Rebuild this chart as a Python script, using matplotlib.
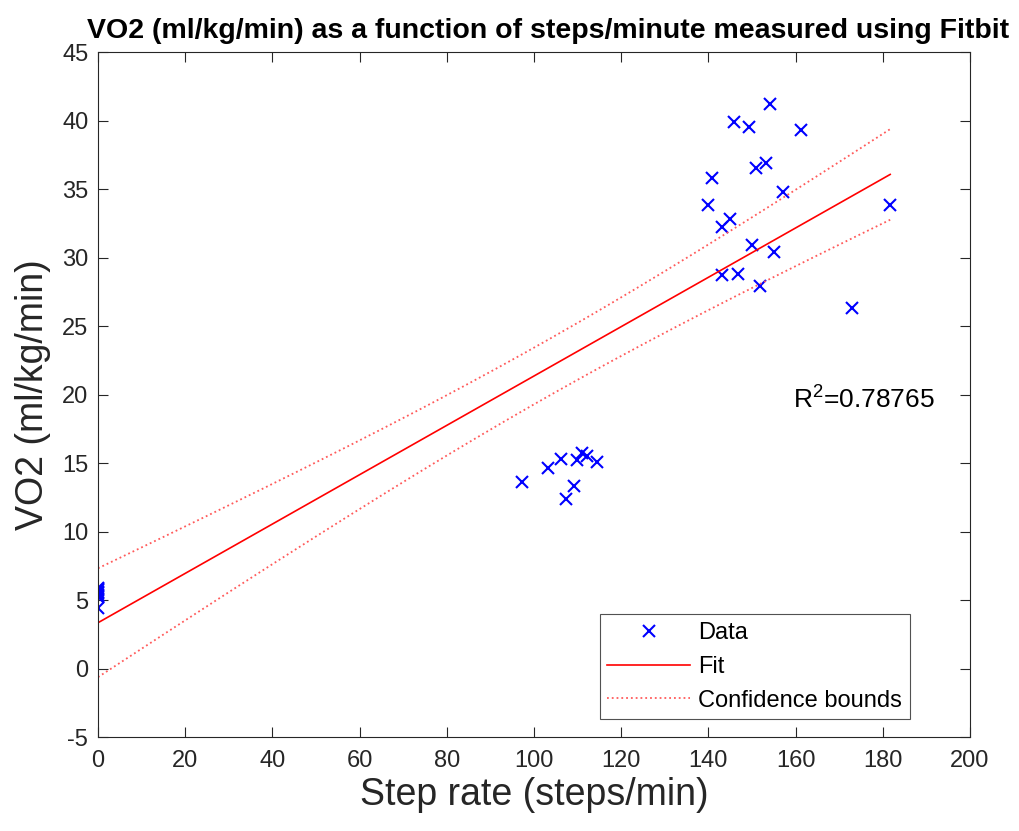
import numpy as np
import matplotlib
matplotlib.use("Agg")
matplotlib.rcParams.update({
    'font.family': ['Liberation Sans', 'DejaVu Sans'],
    'mathtext.fontset': 'custom',
    'mathtext.rm': 'Liberation Sans',
    'mathtext.it': 'Liberation Sans',
    'axes.unicode_minus': False,
    'xtick.direction': 'in',
    'ytick.direction': 'in',
})
import matplotlib.pyplot as plt

# Step rate (steps/min)
step_rate = [
    0, 0, 0, 0, 0, 0, 0, 0, 0,
    97.2, 103.3, 106.3, 109.9, 110.9, 112.2, 114.4, 109.2, 107.3,
    154.1, 145.9, 149.2, 161.2, 150.9, 153.2, 140.8, 157.0, 140.0,
    181.7, 145.0, 143.2, 150.1, 155.1, 143.2, 146.9, 151.8, 172.9,
]
# VO2 (ml/kg/min)
vo2 = [
    5.9, 5.8, 5.7, 5.6, 5.5, 5.4, 5.3, 5.2, 4.4,
    13.6, 14.6, 15.3, 15.2, 15.7, 15.5, 15.1, 13.3, 12.4,
    41.2, 39.9, 39.5, 39.3, 36.5, 36.9, 35.8, 34.8, 33.8,
    33.8, 32.8, 32.2, 30.9, 30.4, 28.7, 28.8, 27.9, 26.3,
]
R2_TEXT = 'R$^{2}$=0.78765'
T_CRIT = 2.03  # t(0.975, n-2)

x = np.array(step_rate)
y = np.array(vo2)
slope, intercept = np.polyfit(x, y, 1)
n = len(x)
resid = y - (slope * x + intercept)
s = np.sqrt(np.sum(resid ** 2) / (n - 2))
sxx = np.sum((x - x.mean()) ** 2)

xf = np.linspace(x.min(), x.max(), 200)
yf = slope * xf + intercept
half = T_CRIT * s * np.sqrt(1.0 / n + (xf - x.mean()) ** 2 / sxx)

axis_col = '#262626'

fig = plt.figure(figsize=(10.19, 8.31), dpi=100)
ax = fig.add_axes([0.0962, 0.1131, 0.8557, 0.8243])

ax.plot(x, y, 'x', color='blue', markersize=9, markeredgewidth=1.5, label='Data')
ax.plot(xf, yf, '-', color='red', linewidth=1.2, label='Fit')
ax.plot(xf, yf + half, ':', color='#ff5a5a', linewidth=1.3, label='Confidence bounds')
ax.plot(xf, yf - half, ':', color='#ff5a5a', linewidth=1.3)

ax.text(159.4, 19.6, R2_TEXT, fontsize=19, va='center', ha='left', color='black')

ax.set_xlim(0, 200)
ax.set_ylim(-5, 45)
ax.set_xticks(np.arange(0, 201, 20))
ax.set_yticks(np.arange(-5, 46, 5))
ax.tick_params(axis='both', labelsize=17, colors=axis_col, length=7, width=0.8,
               top=True, right=True)
ax.tick_params(axis='x', pad=9)
ax.tick_params(axis='y', pad=7)
for sp in ax.spines.values():
    sp.set_color(axis_col)
    sp.set_linewidth(0.8)

ax.set_xlabel('Step rate (steps/min)', fontsize=27, color=axis_col, labelpad=4)
ax.set_ylabel('VO2 (ml/kg/min)', fontsize=27, color=axis_col, labelpad=8)
ax.set_title('VO2 (ml/kg/min) as a function of steps/minute measured using Fitbit',
             fontsize=20.5, fontweight='bold', pad=10, x=0.516)

leg = ax.legend(loc='lower right', bbox_to_anchor=(0.931, 0.026), borderaxespad=0,
                fontsize=17, frameon=True, fancybox=False, edgecolor=axis_col,
                handlelength=3.5, handletextpad=0.35, labelspacing=0.5,
                borderpad=0.32)
leg.get_frame().set_linewidth(0.8)

fig.savefig('out.png', dpi=100, facecolor='white')
